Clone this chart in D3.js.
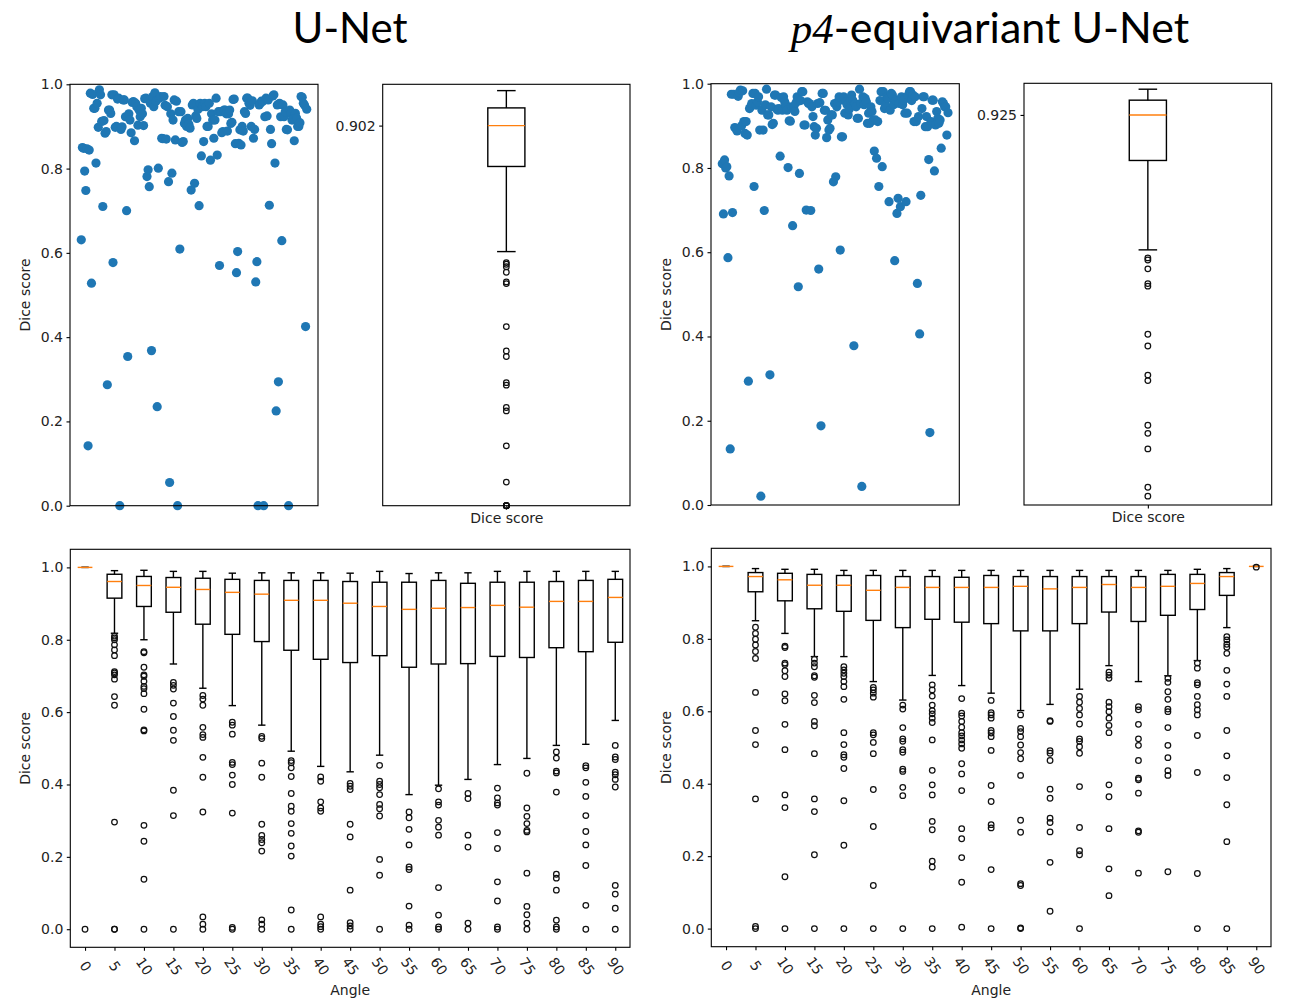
<!DOCTYPE html>
<html>
<head>
<meta charset="utf-8">
<script src="https://cdn.jsdelivr.net/npm/d3@7"></script>
<style>
  body { margin: 0; background: #fff; }
  svg text { font-family: "DejaVu Sans", sans-serif; fill: #222; }
</style>
</head>
<body>
<svg id="fig" width="1289" height="1000"></svg>
<script>
// ---- data ----

const sampleCount = 200;

// top row: per-sample Dice score (sample index, score)
const unetIdx = [0,1,2,3,4,5,6,7,8,9,10,11,12,13,14,15,16,17,18,19,20,21,22,23,24,25,26,27,28,29,30,31,32,33,34,35,36,37,38,39,40,41,42,43,44,45,46,47,48,49,50,51,52,53,54,55,56,57,58,59,60,61,62,63,64,65,66,67,68,69,70,71,72,73,74,75,76,77,78,79,80,81,82,83,84,85,86,87,88,89,90,91,92,93,94,95,96,97,98,99,100,101,102,103,104,105,106,107,108,109,110,111,112,113,114,115,116,117,118,119,120,121,122,123,124,125,126,127,128,129,130,131,132,133,134,135,136,137,138,139,140,141,142,143,144,145,146,147,148,149,150,151,152,153,154,155,156,157,158,159,160,161,162,163,164,165,166,167,168,169,170,171,172,173,174,175,176,177,178,179,180,181,182,183,184,185,186,187,188,189,190,191,192,193,194,195,196,197,198,199];
const unetDice = [0.631,0.850,0.848,0.794,0.748,0.847,0.142,0.844,0.979,0.528,0.976,0.943,0.943,0.813,0.955,0.898,0.987,0.975,0.912,0.710,0.914,0.884,0.888,0.287,0.939,0.939,0.931,0.975,0.577,0.975,0.898,0.900,0.965,0.967,0.0,0.893,0.899,0.963,0.963,0.923,0.700,0.354,0.930,0.915,0.885,0.957,0.959,0.866,0.955,0.947,0.903,0.939,0.923,0.943,0.930,0.902,0.966,0.967,0.781,0.797,0.757,0.955,0.368,0.971,0.947,0.980,0.960,0.235,0.801,0.967,0.971,0.872,0.871,0.971,0.950,0.870,0.947,0.769,0.055,0.930,0.789,0.915,0.963,0.868,0.960,0.0,0.935,0.609,0.935,0.862,0.864,0.907,0.915,0.900,0.919,0.905,0.896,0.749,0.951,0.955,0.765,0.925,0.919,0.940,0.712,0.955,0.830,0.947,0.864,0.955,0.947,0.900,0.900,0.955,0.820,0.930,0.915,0.872,0.915,0.967,0.832,0.935,0.570,0.935,0.885,0.888,0.939,0.939,0.930,0.889,0.930,0.939,0.907,0.910,0.964,0.965,0.859,0.553,0.603,0.860,0.892,0.856,0.900,0.889,0.935,0.931,0.967,0.967,0.955,0.950,0.900,0.961,0.872,0.893,0.531,0.579,0.0,0.951,0.955,0.960,0.959,0.0,0.923,0.967,0.925,0.963,0.713,0.893,0.859,0.972,0.975,0.813,0.225,0.951,0.294,0.955,0.923,0.629,0.951,0.923,0.935,0.893,0.892,0.0,0.939,0.931,0.915,0.919,0.866,0.931,0.920,0.900,0.900,0.909,0.971,0.969,0.955,0.951,0.425,0.941];

const p4Idx = unetIdx;
const p4Dice = [0.810,0.691,0.819,0.800,0.803,0.587,0.781,0.133,0.975,0.694,0.975,0.896,0.894,0.888,0.970,0.979,0.985,0.900,0.983,0.910,0.882,0.910,0.878,0.294,0.941,0.945,0.953,0.977,0.756,0.977,0.949,0.957,0.969,0.890,0.021,0.937,0.890,0.699,0.950,0.987,0.926,0.926,0.309,0.945,0.903,0.906,0.973,0.973,0.940,0.937,0.941,0.828,0.967,0.937,0.969,0.957,0.950,0.937,0.801,0.912,0.911,0.945,0.663,0.945,0.934,0.955,0.969,0.518,0.787,0.960,0.981,0.981,0.902,0.902,0.700,0.957,0.953,0.953,0.699,0.945,0.922,0.898,0.878,0.894,0.953,0.560,0.955,0.188,0.977,0.977,0.937,0.937,0.872,0.914,0.890,0.894,0.926,0.926,0.767,0.953,0.779,0.945,0.957,0.969,0.605,0.874,0.874,0.969,0.930,0.957,0.950,0.926,0.940,0.961,0.973,0.961,0.378,0.953,0.945,0.918,0.918,0.987,0.953,0.044,0.969,0.950,0.965,0.957,0.906,0.930,0.906,0.945,0.934,0.914,0.840,0.914,0.823,0.910,0.756,0.960,0.981,0.803,0.981,0.941,0.949,0.969,0.965,0.720,0.937,0.977,0.973,0.950,0.580,0.961,0.692,0.728,0.953,0.708,0.969,0.950,0.961,0.930,0.720,0.930,0.973,0.981,0.981,0.960,0.973,0.910,0.969,0.910,0.526,0.922,0.406,0.735,0.941,0.969,0.969,0.898,0.922,0.898,0.820,0.172,0.910,0.961,0.961,0.793,0.902,0.934,0.918,0.906,0.914,0.847,0.957,0.953,0.945,0.945,0.878,0.931];

// top row box plots: [lower whisker, Q1, median, Q3, upper whisker]
const unetAllStats = [0.603, 0.805, 0.902, 0.944, 0.985];
const unetAllOutliers = [0.577,0.573,0.567,0.554,0.531,0.527,0.425,0.367,0.354,0.292,0.286,0.233,0.225,0.142,0.056,0,0,0,0,0,0];
const p4AllStats = [0.605, 0.817, 0.925, 0.960, 0.986];
const p4AllOutliers = [0.586,0.581,0.560,0.525,0.519,0.405,0.377,0.308,0.295,0.189,0.170,0.133,0.042,0.021];

// bottom row: Dice score per rotation angle
const angles = [0,5,10,15,20,25,30,35,40,45,50,55,60,65,70,75,80,85,90];

const unetWhiskerLo = [1.0,0.818,0.800,0.733,0.666,0.618,0.564,0.492,0.450,0.435,0.481,0.372,0.398,0.414,0.455,0.472,0.508,0.511,0.577];
const unetQ1        = [1.0,0.915,0.892,0.876,0.843,0.815,0.795,0.771,0.746,0.737,0.756,0.724,0.733,0.734,0.754,0.751,0.778,0.767,0.793];
const unetMedian    = [1.0,0.961,0.950,0.945,0.939,0.931,0.926,0.909,0.909,0.901,0.892,0.884,0.887,0.889,0.895,0.890,0.906,0.906,0.917];
const unetQ3        = [1.0,0.981,0.975,0.972,0.970,0.967,0.964,0.964,0.964,0.961,0.959,0.959,0.964,0.956,0.959,0.959,0.961,0.964,0.967];
const unetWhiskerHi = [1.0,0.991,0.992,0.989,0.989,0.984,0.985,0.985,0.985,0.984,0.989,0.983,0.985,0.985,0.989,0.989,0.989,0.989,0.989];
const unetOutliers = [
  [0],
  [0.810,0.805,0.800,0.786,0.772,0.756,0.712,0.708,0.703,0.691,0.643,0.619,0.296,0,0],
  [0.767,0.764,0.724,0.703,0.699,0.685,0.671,0.665,0.651,0.608,0.551,0.548,0.287,0.243,0.138,0],
  [0.682,0.674,0.664,0.625,0.588,0.550,0.522,0.384,0.314,0],
  [0.646,0.636,0.619,0.558,0.538,0.530,0.475,0.420,0.324,0.034,0.014,0],
  [0.572,0.564,0.539,0.461,0.455,0.426,0.400,0.321,0.005,0],
  [0.533,0.527,0.459,0.420,0.290,0.259,0.248,0.239,0.216,0.026,0.014,0],
  [0.466,0.460,0.446,0.422,0.375,0.340,0.326,0.292,0.265,0.230,0.202,0.053,0],
  [0.421,0.409,0.352,0.335,0.326,0.034,0.014,0.007,0],
  [0.403,0.395,0.386,0.290,0.255,0.108,0.018,0.009,0],
  [0.453,0.409,0.400,0.391,0.372,0.345,0.333,0.313,0.193,0.149,0],
  [0.324,0.308,0.276,0.233,0.172,0.165,0.064,0.011,0],
  [0.388,0.352,0.343,0.301,0.282,0.260,0.115,0.039,0.006,0],
  [0.375,0.361,0.260,0.227,0.017,0],
  [0.390,0.363,0.349,0.343,0.267,0.223,0.131,0.078,0.006,0],
  [0.431,0.335,0.312,0.292,0.273,0.269,0.155,0.063,0.040,0.017,0],
  [0.490,0.473,0.437,0.432,0.379,0.152,0.141,0.108,0.025,0.006,0],
  [0.452,0.446,0.406,0.367,0.314,0.270,0.233,0.176,0.066,0],
  [0.508,0.476,0.469,0.434,0.427,0.414,0.393,0.121,0.097,0.058,0]
];

const p4WhiskerLo = [1.0,0.850,0.815,0.751,0.751,0.682,0.631,0.699,0.671,0.650,0.602,0.619,0.661,0.726,0.682,0.698,0.740,0.831,1.0];
const p4Q1        = [1.0,0.930,0.905,0.883,0.876,0.851,0.831,0.854,0.846,0.842,0.822,0.822,0.842,0.874,0.848,0.865,0.881,0.920,1.0];
const p4Median    = [1.0,0.972,0.963,0.948,0.948,0.934,0.942,0.942,0.942,0.942,0.945,0.938,0.942,0.950,0.942,0.945,0.953,0.972,1.0];
const p4Q3        = [1.0,0.983,0.981,0.978,0.975,0.975,0.972,0.972,0.970,0.975,0.972,0.972,0.972,0.972,0.972,0.978,0.978,0.983,1.0];
const p4WhiskerHi = [1.0,0.994,0.992,0.992,0.989,0.989,0.989,0.989,0.989,0.989,0.989,0.989,0.989,0.989,0.989,0.989,0.992,0.994,1.0];
const p4Outliers = [
  [],
  [0.832,0.815,0.799,0.783,0.765,0.746,0.652,0.547,0.508,0.358,0.006,0],
  [0.780,0.776,0.733,0.729,0.712,0.696,0.648,0.629,0.564,0.494,0.369,0.334,0.143,0],
  [0.744,0.733,0.723,0.698,0.694,0.644,0.624,0.572,0.560,0.483,0.358,0.323,0.204,0],
  [0.723,0.714,0.705,0.696,0.682,0.668,0.633,0.541,0.508,0.480,0.473,0.442,0.353,0.230,0],
  [0.666,0.659,0.650,0.639,0.541,0.535,0.514,0.483,0.384,0.282,0.119,0],
  [0.617,0.606,0.555,0.524,0.517,0.494,0.487,0.440,0.434,0.390,0.367,0],
  [0.673,0.659,0.642,0.617,0.602,0.593,0.581,0.569,0.521,0.437,0.397,0.369,0.296,0.273,0.186,0.170,0],
  [0.635,0.595,0.587,0.572,0.556,0.541,0.532,0.521,0.510,0.498,0.455,0.427,0.381,0.276,0.248,0.196,0.128,0.004],
  [0.630,0.596,0.590,0.581,0.547,0.540,0.530,0.492,0.395,0.351,0.287,0.278,0.163,0],
  [0.590,0.553,0.544,0.530,0.507,0.486,0.469,0.423,0.299,0.266,0.124,0.119,0.002,0],
  [0.574,0.572,0.491,0.484,0.464,0.385,0.360,0.305,0.293,0.267,0.183,0.048],
  [0.641,0.625,0.608,0.590,0.565,0.524,0.517,0.502,0.484,0.392,0.279,0.215,0.204,0],
  [0.708,0.700,0.691,0.625,0.613,0.599,0.581,0.561,0.541,0.397,0.364,0.276,0.165,0.091],
  [0.613,0.604,0.564,0.524,0.506,0.464,0.415,0.411,0.374,0.270,0.266,0.153],
  [0.691,0.680,0.654,0.633,0.606,0.599,0.555,0.506,0.472,0.436,0.423,0.157],
  [0.733,0.719,0.679,0.673,0.641,0.618,0.604,0.590,0.533,0.431,0.152,0],
  [0.806,0.797,0.785,0.777,0.760,0.713,0.675,0.641,0.547,0.477,0.417,0.342,0.240,0],
  [0.998]
];

const yTicks = [0, 0.2, 0.4, 0.6, 0.8, 1.0];

// ---- drawing ----

const svg = d3.select("#fig");
const blue = "#1f77b4", orange = "#ff7f0e";
const lw = 1.4;
const fontPx = 14;

function drawFrame(p) {
	svg.append("rect")
		.attr("x", p.x0).attr("y", p.y0)
		.attr("width", p.x1 - p.x0).attr("height", p.y1 - p.y0)
		.attr("fill", "none").attr("stroke", "#000").attr("stroke-width", 1.1);
}

function styleAxis(g) {
	g.select(".domain").remove();
	g.attr("font-family", "DejaVu Sans, sans-serif").attr("font-size", fontPx);
	g.selectAll("line").attr("stroke", "#000").attr("stroke-width", 1.1);
	g.selectAll("text").attr("fill", "#222");
}

function yLabel(x, p, txt) {
	svg.append("text")
		.attr("transform", `translate(${x},${(p.y0 + p.y1) / 2}) rotate(-90)`)
		.attr("text-anchor", "middle")
		.attr("dominant-baseline", "central")
		.style("font-size", fontPx + "px")
		.text(txt);
}

function drawScatter(p, idx, dice) {
	const pad = (sampleCount - 1) * 0.05;
	const x = d3.scaleLinear().domain([-pad, sampleCount - 1 + pad]).range([p.x0, p.x1]);
	const y = d3.scaleLinear().domain([0, 1]).range([p.y1, p.y0]);

	svg.append("g").selectAll("circle")
		.data(d3.zip(idx, dice))
		.enter()
		.append("circle")
		.attr("cx", d => x(d[0]))
		.attr("cy", d => y(d[1]))
		.attr("r", 4.6)
		.attr("fill", blue);

	drawFrame(p);
	svg.append("g")
		.attr("transform", `translate(${p.x0},0)`)
		.call(d3.axisLeft(y).tickValues(yTicks).tickFormat(d3.format(".1f")).tickSize(3.5).tickPadding(3.5))
		.call(styleAxis);
	yLabel(p.x0 - 45, p, "Dice score");
}

// one boxplot glyph on scales x, y
function drawBox(g, x, y, pos, halfW, st, outliers) {
	const [lo, q1, med, q3, hi] = st;
	const cx = x(pos), bx0 = x(pos - halfW), bx1 = x(pos + halfW);
	const cap = (bx1 - bx0) / 4;
	const line = (x1, y1, x2, y2, c) => g.append("line")
		.attr("x1", x1).attr("y1", y1).attr("x2", x2).attr("y2", y2)
		.attr("stroke", c || "#000").attr("stroke-width", lw);

	g.append("rect")
		.attr("x", bx0).attr("y", y(q3))
		.attr("width", bx1 - bx0).attr("height", Math.max(0, y(q1) - y(q3)))
		.attr("fill", "none").attr("stroke", "#000").attr("stroke-width", lw);
	line(cx, y(q1), cx, y(lo));
	line(cx, y(q3), cx, y(hi));
	line(cx - cap, y(lo), cx + cap, y(lo));
	line(cx - cap, y(hi), cx + cap, y(hi));
	line(bx0, y(med), bx1, y(med), orange);

	g.selectAll(null)
		.data(outliers)
		.enter()
		.append("circle")
		.attr("cx", cx)
		.attr("cy", d => y(d))
		.attr("r", 2.8)
		.attr("fill", "none")
		.attr("stroke", "#111")
		.attr("stroke-width", 1.25);
}

function drawSummaryBox(p, st, outliers) {
	const x = d3.scaleLinear().domain([0.5, 1.5]).range([p.x0, p.x1]);
	const y = d3.scaleLinear().domain([0, 1]).range([p.y1, p.y0]);
	drawBox(svg.append("g"), x, y, 1, 0.075, st, outliers);
	drawFrame(p);

	svg.append("g")
		.attr("transform", `translate(${p.x0},0)`)
		.call(d3.axisLeft(y).tickValues([st[2]]).tickFormat(d3.format(".3f")).tickSize(3.5).tickPadding(3.5))
		.call(styleAxis);
	svg.append("g")
		.attr("transform", `translate(0,${p.y1})`)
		.call(d3.axisBottom(x).tickValues([1]).tickFormat(() => "Dice score").tickSize(3.5).tickPadding(3.5))
		.call(styleAxis);
}

function drawAngleBoxes(p, lo, q1, med, q3, hi, outliers) {
	const x = d3.scaleLinear().domain([0.5, angles.length + 0.5]).range([p.x0, p.x1]);
	const y = d3.scaleLinear().domain([-0.05, 1.05]).range([p.y1, p.y0]);
	const g = svg.append("g");
	angles.forEach((a, i) => {
		drawBox(g, x, y, i + 1, 0.25, [lo[i], q1[i], med[i], q3[i], hi[i]], outliers[i]);
	});
	drawFrame(p);

	svg.append("g")
		.attr("transform", `translate(${p.x0},0)`)
		.call(d3.axisLeft(y).tickValues(yTicks).tickFormat(d3.format(".1f")).tickSize(3.5).tickPadding(3.5))
		.call(styleAxis);

	const xa = svg.append("g")
		.attr("transform", `translate(0,${p.y1})`)
		.call(d3.axisBottom(x).tickValues(angles.map((a, i) => i + 1)).tickFormat(v => angles[v - 1]).tickSize(3.5))
		.call(styleAxis);
	xa.selectAll("text")
		.attr("y", 0).attr("dy", null)
		.attr("text-anchor", "middle")
		.attr("dominant-baseline", "central")
		.attr("transform", "translate(0,19) rotate(55)");

	svg.append("text")
		.attr("x", (p.x0 + p.x1) / 2)
		.attr("y", p.y1 + 48)
		.attr("text-anchor", "middle")
		.style("font-size", fontPx + "px")
		.text("Angle");
	yLabel(p.x0 - 45, p, "Dice score");
}

// panel frames (pixels)
const tlScatter = { x0: 70, x1: 318, y0: 84.3, y1: 505.7 };
const tlBox     = { x0: 382.7, x1: 630, y0: 84.3, y1: 505.7 };
const trScatter = { x0: 711, x1: 959.3, y0: 83.7, y1: 505 };
const trBox     = { x0: 1024, x1: 1271.7, y0: 83.3, y1: 505 };
const blAngles  = { x0: 70.3, x1: 630, y0: 549.3, y1: 947.3 };
const brAngles  = { x0: 711.3, x1: 1271, y0: 548.3, y1: 946.7 };

drawScatter(tlScatter, unetIdx, unetDice);
drawSummaryBox(tlBox, unetAllStats, unetAllOutliers);
drawScatter(trScatter, p4Idx, p4Dice);
drawSummaryBox(trBox, p4AllStats, p4AllOutliers);
drawAngleBoxes(blAngles, unetWhiskerLo, unetQ1, unetMedian, unetQ3, unetWhiskerHi, unetOutliers);
drawAngleBoxes(brAngles, p4WhiskerLo, p4Q1, p4Median, p4Q3, p4WhiskerHi, p4Outliers);

// titles
const titleFont = "Lato, 'Open Sans', sans-serif";
svg.append("text")
	.attr("x", 350).attr("y", 43)
	.attr("text-anchor", "middle")
	.style("font-family", titleFont).style("font-size", "42px").style("fill", "#000")
	.text("U-Net");

const t2 = svg.append("text")
	.attr("x", 990).attr("y", 43)
	.attr("text-anchor", "middle")
	.style("font-family", titleFont).style("font-size", "43px").style("fill", "#000");
t2.append("tspan")
	.style("font-family", "'Liberation Serif', 'DejaVu Serif', serif")
	.style("font-style", "italic")
	.text("p4");
t2.append("tspan").text("-equivariant U-Net");
</script>
</body>
</html>
